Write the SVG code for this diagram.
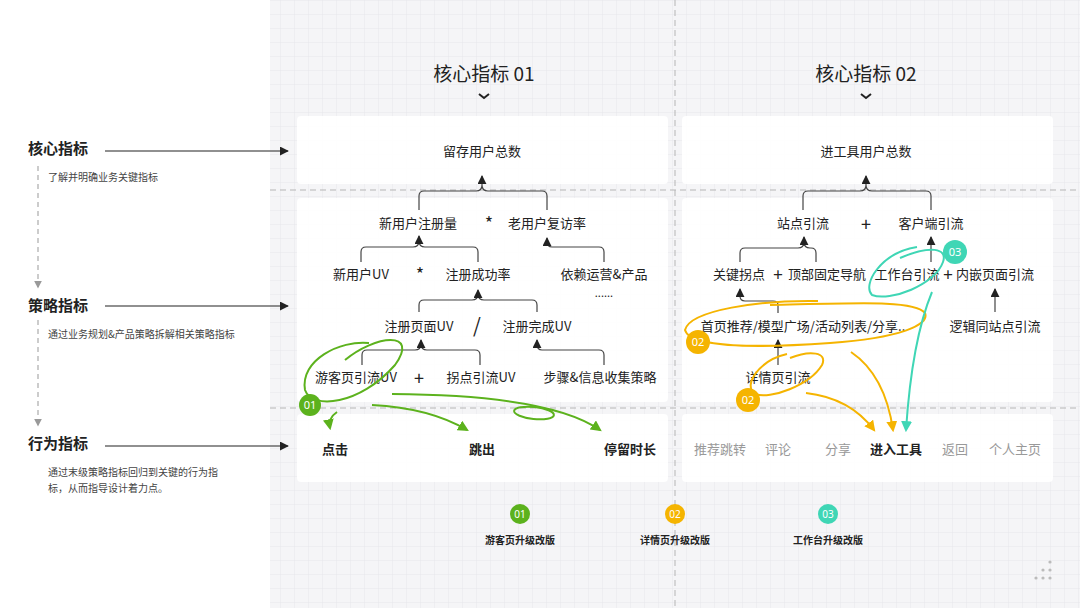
<svg xmlns="http://www.w3.org/2000/svg" width="1080" height="608" viewBox="0 0 1080 608">
<defs>
<pattern id="grid" width="14" height="14" patternUnits="userSpaceOnUse"><path d="M14 0H0V14" fill="none" stroke="#e3e3e8" stroke-width="0.8"/></pattern>
<marker id="ab" viewBox="0 0 10 10" refX="9" refY="5" markerWidth="9" markerHeight="9" orient="auto" markerUnits="userSpaceOnUse"><path d="M0 0L10 5L0 10Z" fill="#222"/></marker>
<marker id="ag" viewBox="0 0 10 10" refX="8" refY="5" markerWidth="11" markerHeight="11" orient="auto" markerUnits="userSpaceOnUse"><path d="M0 0L10 5L0 10Z" fill="#5cb21d"/></marker>
<marker id="ao" viewBox="0 0 10 10" refX="8" refY="5" markerWidth="11" markerHeight="11" orient="auto" markerUnits="userSpaceOnUse"><path d="M0 0L10 5L0 10Z" fill="#f5b400"/></marker>
<marker id="at" viewBox="0 0 10 10" refX="8" refY="5" markerWidth="11" markerHeight="11" orient="auto" markerUnits="userSpaceOnUse"><path d="M0 0L10 5L0 10Z" fill="#3fd6b5"/></marker>
<marker id="agr" viewBox="0 0 10 10" refX="8" refY="5" markerWidth="8" markerHeight="8" orient="auto" markerUnits="userSpaceOnUse"><path d="M0 0L10 5L0 10Z" fill="#999"/></marker>
</defs>
<style>
text{font-family:"Noto Sans CJK SC","Noto Sans",sans-serif;fill:#222}
.n{font-size:13px;text-anchor:middle}
.g{font-size:13px;text-anchor:middle;fill:#999}
.b{font-size:13px;text-anchor:middle;font-weight:bold}
.h{font-size:15px;font-weight:bold}
.s{font-size:10px;fill:#444}
.t{font-size:19px;text-anchor:middle}
.card{fill:#fff;opacity:0.92}
.br{fill:none;stroke:#444;stroke-width:1.2}
.gr{fill:none;stroke:#5cb21d;stroke-width:2}
.or{fill:none;stroke:#f5b400;stroke-width:2}
.te{fill:none;stroke:#3fd6b5;stroke-width:2}
.bd{fill:#fff;font-size:11px;text-anchor:middle;font-family:"Noto Sans",sans-serif}
.lg{font-size:10px;text-anchor:middle;font-weight:bold}
</style>
<rect width="1080" height="608" fill="#fff"/>
<rect x="270" width="810" height="608" fill="#f5f5f7"/>
<rect x="270" width="810" height="608" fill="url(#grid)"/>
<g fill="none" stroke="#b5b5b5" stroke-dasharray="6 4" stroke-width="1">
<path d="M675 0V608"/><path d="M270 190H1080"/><path d="M270 408H1080"/>
</g>
<g id="cards">
<rect class="card" x="297" y="116" width="371" height="68" rx="4"/>
<rect class="card" x="297" y="198" width="371" height="204" rx="4"/>
<rect class="card" x="297" y="414" width="371" height="68" rx="4"/>
<rect class="card" x="682" y="116" width="371" height="68" rx="4"/>
<rect class="card" x="682" y="198" width="371" height="204" rx="4"/>
<rect class="card" x="682" y="414" width="371" height="68" rx="4"/>
</g>
<g id="titles">
<text class="t" x="484" y="81">核心指标 01</text>
<path d="M479 94l5 4 5-4" fill="none" stroke="#222" stroke-width="2"/>
<text class="t" x="866" y="81">核心指标 02</text>
<path d="M861 94l5 4 5-4" fill="none" stroke="#222" stroke-width="2"/>
</g>
<g id="side">
<text class="h" x="28" y="154">核心指标</text>
<text class="s" x="48" y="181">了解并明确业务关键指标</text>
<text class="h" x="28" y="311">策略指标</text>
<text class="s" x="48" y="338">通过业务规划&amp;产品策略拆解相关策略指标</text>
<text class="h" x="28" y="449">行为指标</text>
<text class="s" x="48" y="476">通过末级策略指标回归到关键的行为指</text>
<text class="s" x="48" y="492">标，从而指导设计着力点。</text>
<path d="M105 151H288" stroke="#222" stroke-width="1.2" marker-end="url(#ab)"/>
<path d="M105 306H288" stroke="#222" stroke-width="1.2" marker-end="url(#ab)"/>
<path d="M105 446H288" stroke="#222" stroke-width="1.2" marker-end="url(#ab)"/>
<path d="M38 166V287" stroke="#999" stroke-dasharray="5 4" marker-end="url(#agr)"/>
<path d="M38 320V425" stroke="#999" stroke-dasharray="5 4" marker-end="url(#agr)"/>
</g>
<g id="connectors">
<path class="br" d="M419 210V196q0-5 5-5h52q6 0 6-6M482 185q0 6 6 6h54q5 0 5 5v14"/>
<path class="br" d="M482 185V176" marker-end="url(#ab)"/>
<path class="br" d="M361 262V252q0-5 5-5h47q6 0 6-6M419 241q0 6 6 6h48q5 0 5 5v10"/>
<path class="br" d="M419 242V236" marker-end="url(#ab)"/>
<path class="br" d="M604 262V252q0-5-5-5h-47q-5 0-5-6V238" marker-end="url(#ab)"/>
<path class="br" d="M419 312V305q0-5 5-5h48q6 0 6-6M478 294q0 6 6 6h48q5 0 5 5v7"/>
<path class="br" d="M478 296V290" marker-end="url(#ab)"/>
<path class="br" d="M362 365V355q0-5 5-5h48q6 0 6-6M421 344q0 6 6 6h48q5 0 5 5v10"/>
<path class="br" d="M421 346V340" marker-end="url(#ab)"/>
<path class="br" d="M604 365V355q0-5-5-5h-57q-5 0-5-6V340" marker-end="url(#ab)"/>
<path class="br" d="M803 210V196q0-5 5-5h52q6 0 6-6M866 185q0 6 6 6h54q5 0 5 5v14"/>
<path class="br" d="M866 185V176" marker-end="url(#ab)"/>
<path class="br" d="M740 262V253q0-5 5-5h53q6 0 6-6M804 242q0 6 6 6h1q5 0 5 5v9"/>
<path class="br" d="M804 244V237" marker-end="url(#ab)"/>
<path class="br" d="M931 262V237" marker-end="url(#ab)"/>
<path class="br" d="M995 312V289" marker-end="url(#ab)"/>
<path class="br" d="M778 313V305q0-4-5-4h-28q-5 0-5-5V289" marker-end="url(#ab)"/>
<path class="br" d="M778 365V340" marker-end="url(#ab)"/>
</g>
<g id="tree-left">
<text class="n" x="482" y="156">留存用户总数</text>
<text class="n" x="418" y="228">新用户注册量</text>
<text class="n" x="489" y="230" style="font-size:18px">*</text>
<text class="n" x="547" y="228">老用户复访率</text>
<text class="n" x="361" y="279">新用户UV</text>
<text class="n" x="420" y="281" style="font-size:18px">*</text>
<text class="n" x="478" y="279">注册成功率</text>
<text class="n" x="604" y="279">依赖运营&amp;产品</text>
<text class="n" x="604" y="297" style="font-size:11px">......</text>
<text class="n" x="419" y="331">注册页面UV</text>
<text class="n" x="477" y="333" style="font-size:20px">/</text>
<text class="n" x="537" y="331">注册完成UV</text>
<text class="n" x="356" y="382">游客页引流UV</text>
<text class="n" x="419" y="385" style="font-size:18px">+</text>
<text class="n" x="481" y="382">拐点引流UV</text>
<text class="n" x="600" y="382">步骤&amp;信息收集策略</text>
<text class="b" x="335" y="454">点击</text>
<text class="b" x="482" y="454">跳出</text>
<text class="b" x="630" y="454">停留时长</text>
</g>
<g id="tree-right">
<text class="n" x="866" y="156">进工具用户总数</text>
<text class="n" x="803" y="228">站点引流</text>
<text class="n" x="866" y="231" style="font-size:18px">+</text>
<text class="n" x="931" y="228">客户端引流</text>
<text class="n" x="739" y="279">关键拐点</text>
<text class="n" x="778" y="281" style="font-size:17px">+</text>
<text class="n" x="827" y="279">顶部固定导航</text>
<text class="n" x="907" y="279">工作台引流</text>
<text class="n" x="948" y="281" style="font-size:17px">+</text>
<text class="n" x="995" y="279">内嵌页面引流</text>
<text class="n" x="803" y="331">首页推荐/模型广场/活动列表/分享..</text>
<text class="n" x="995" y="331">逻辑同站点引流</text>
<text class="n" x="778" y="382">详情页引流</text>
<text class="g" x="720" y="454">推荐跳转</text>
<text class="g" x="778" y="454">评论</text>
<text class="g" x="838" y="454">分享</text>
<text class="b" x="896" y="454">进入工具</text>
<text class="g" x="955" y="454">返回</text>
<text class="g" x="1015" y="454">个人主页</text>
</g>
<g id="highlight-01">
<path class="gr" d="M369 343C340 340 300 360 305 390C312 410 360 405 395 365C420 330 375 335 345 360"/>
<path class="gr" d="M337 412Q328 418 330 428" marker-end="url(#ag)"/>
<path class="gr" d="M372 405Q430 408 467 430" marker-end="url(#ag)"/>
<path class="gr" d="M392 394Q550 395 600 430" marker-end="url(#ag)"/>
<ellipse class="gr" cx="534" cy="413" rx="20" ry="6" transform="rotate(6 534 413)"/>
<circle cx="310" cy="405" r="11" fill="#5cb21d"/><text class="bd" x="310" y="409">01</text>
</g>
<g id="highlight-02">
<path class="or" d="M818 301C760 300 690 310 685 330C690 348 760 348 830 343C900 338 930 325 925 313C915 300 860 303 770 305"/>
<path class="or" d="M787 354C760 360 742 385 755 394C770 400 810 385 822 365C828 352 810 350 790 358"/>
<path class="or" d="M806 393Q850 398 874 430" marker-end="url(#ao)"/>
<path class="or" d="M851 352Q885 375 893 430" marker-end="url(#ao)"/>
<circle cx="698" cy="342" r="12" fill="#f5b400"/><text class="bd" x="698" y="346">02</text>
<circle cx="748" cy="400" r="12" fill="#f5b400"/><text class="bd" x="748" y="404">02</text>
</g>
<g id="highlight-03">
<path class="te" d="M917 247C880 253 862 285 872 295C890 302 935 285 943 262C948 248 930 245 900 258"/>
<path class="te" d="M932 292Q912 340 906 430" marker-end="url(#at)"/>
<circle cx="955" cy="252" r="12" fill="#3fd6b5"/><text class="bd" x="955" y="256">03</text>
</g>
<g id="legend">
<circle cx="520" cy="514" r="10" fill="#5cb21d"/><text class="bd" x="520" y="518" style="font-size:10px">01</text>
<text class="lg" x="520" y="544">游客页升级改版</text>
<circle cx="675" cy="514" r="10" fill="#f5b400"/><text class="bd" x="675" y="518" style="font-size:10px">02</text>
<text class="lg" x="675" y="544">详情页升级改版</text>
<circle cx="828" cy="514" r="10" fill="#3fd6b5"/><text class="bd" x="828" y="518" style="font-size:10px">03</text>
<text class="lg" x="828" y="544">工作台升级改版</text>
</g>
<g fill="#bbb">
<circle cx="1050" cy="562" r="1.6"/><circle cx="1043" cy="570" r="1.6"/><circle cx="1050" cy="570" r="1.6"/><circle cx="1036" cy="578" r="1.6"/><circle cx="1043" cy="578" r="1.6"/><circle cx="1050" cy="578" r="1.6"/>
</g>
</svg>
